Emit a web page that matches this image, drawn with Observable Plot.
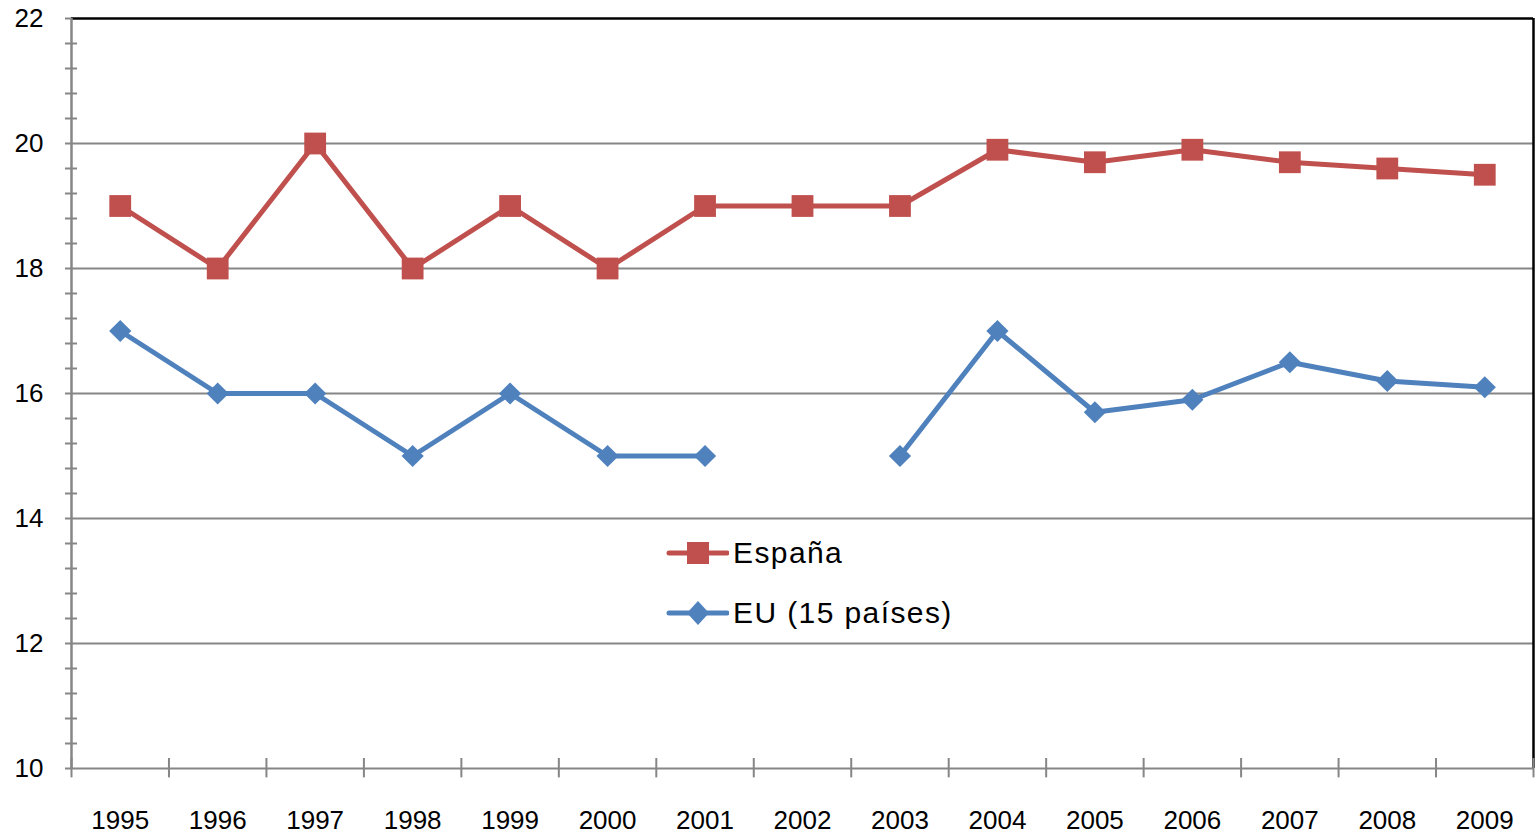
<!DOCTYPE html>
<html>
<head>
<meta charset="utf-8">
<script src="https://cdn.jsdelivr.net/npm/d3@7"></script>
<script src="https://cdn.jsdelivr.net/npm/@observablehq/plot@0.6"></script>
<style>
  html, body { margin: 0; padding: 0; background: #fff; }
  #wrap { position: relative; width: 1536px; height: 835px; font-family: "Liberation Sans", Arial, sans-serif; }
  .legend { position: absolute; left: 665px; display: flex; align-items: center; font-size: 30px; letter-spacing: 1.4px; color: #000; }
  .legend svg { margin-right: 4px; }
</style>
</head>
<body>
<div id="wrap"></div>
<script>
const years = [1995,1996,1997,1998,1999,2000,2001,2002,2003,2004,2005,2006,2007,2008,2009];
const espana = [19,18,20,18,19,18,19,19,19,19.9,19.7,19.9,19.7,19.6,19.5];
const eu15 = [17,16,16,15,16,15,15,null,15,17,15.7,15.9,16.5,16.2,16.1];
const yTicks = [10,12,14,16,18,20,22];
const yMinor = [10.4,10.8,11.2,11.6,12.4,12.8,13.2,13.6,14.4,14.8,15.2,15.6,16.4,16.8,17.2,17.6,18.4,18.8,19.2,19.6,20.4,20.8,21.2,21.6];
const seriesNames = ["España", "EU (15 países)"];
const seriesColors = ["#C0504D", "#4F81BD"];

const dataEs = years.map((y,i) => ({year: y, value: espana[i]}));
const dataEu = years.map((y,i) => ({year: y, value: eu15[i]}));
const bounds = years.map(y => y - 0.5).concat([years[years.length-1] + 0.5]);
const x0 = years[0] - 0.5, x1 = years[years.length-1] + 0.5;
const gray = "#868686";

const chart = Plot.plot({
  width: 1536, height: 835,
  marginLeft: 71, marginRight: 3, marginTop: 18, marginBottom: 67,
  x: {domain: [x0, x1], label: null},
  y: {domain: [10, 22], label: null},
  style: {fontFamily: "'Liberation Sans', Arial, sans-serif", fontSize: "26px", background: "#fff", color: "#000"},
  marks: [
    Plot.ruleY(yTicks.filter(v => v > 10 && v < 22), {stroke: gray, strokeWidth: 2}),
    Plot.ruleY([22], {stroke: "#000", strokeWidth: 2.5}),
    Plot.ruleX([x1], {y1: 10, y2: 22, stroke: "#000", strokeWidth: 2.5}),
    Plot.ruleY(yMinor, {x1: x0 - 0.062, x2: x0 + 0.062, stroke: gray, strokeWidth: 2}),
    Plot.ruleX(bounds, {y1: 9.85, y2: 10.16, stroke: gray, strokeWidth: 2}),
    Plot.ruleY([10], {stroke: gray, strokeWidth: 2}),
    Plot.ruleX([x0], {y1: 10, y2: 22, stroke: gray, strokeWidth: 2.5}),
    Plot.axisY({ticks: yTicks, tickSize: 6, tickPadding: 22, stroke: gray, strokeWidth: 2, tickFormat: d => String(d), fill: "#000", fontSize: 26, label: null}),
    Plot.axisX({ticks: years, tickSize: 0, tickPadding: 42, tickFormat: d => String(d), fill: "#000", fontSize: 26, label: null}),
    Plot.line(dataEs, {x: "year", y: "value", stroke: seriesColors[0], strokeWidth: 5}),
    Plot.line(dataEu, {x: "year", y: "value", stroke: seriesColors[1], strokeWidth: 5}),
    Plot.dot(dataEs, {x: "year", y: "value", symbol: "square", r: 12.3, fill: seriesColors[0], stroke: "none"}),
    Plot.dot(dataEu.filter(d => d.value != null), {x: "year", y: "value", symbol: "diamond2", r: 10, fill: seriesColors[1], stroke: "none"})
  ]
});

const wrap = document.getElementById("wrap");
wrap.appendChild(chart);

const legendTops = [553, 613];
seriesNames.forEach((name, i) => {
  const div = document.createElement("div");
  div.className = "legend";
  div.style.top = (legendTops[i] - 20) + "px";
  const marker = i === 0
    ? `<rect x="22" y="9" width="22" height="22" fill="${seriesColors[i]}"/>`
    : `<path d="M33 8 L44 20 L33 32 L22 20 Z" fill="${seriesColors[i]}"/>`;
  div.innerHTML = `<svg width="64" height="40"><line x1="4" y1="20" x2="62" y2="20" stroke="${seriesColors[i]}" stroke-width="5" stroke-linecap="round"/>${marker}</svg><span>${name}</span>`;
  wrap.appendChild(div);
});
</script>
</body>
</html>
